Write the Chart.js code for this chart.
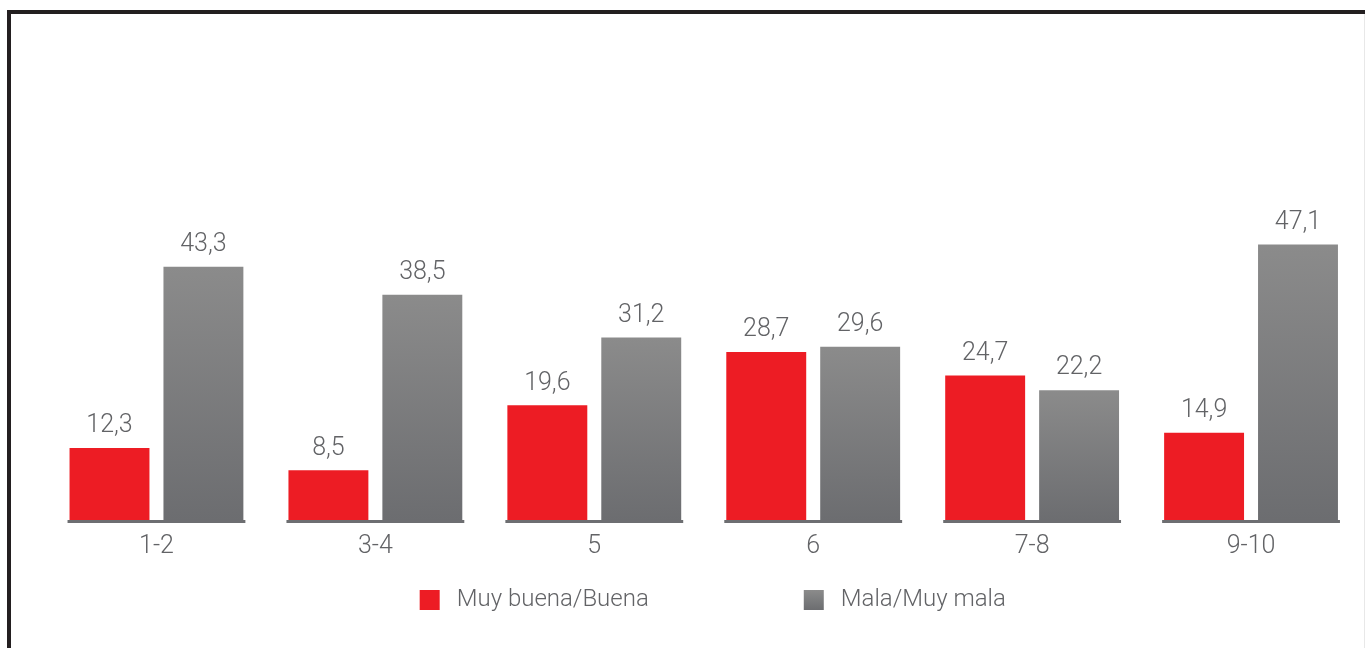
<!DOCTYPE html>
<html>
<head>
<meta charset="utf-8">
<script src="https://cdn.jsdelivr.net/npm/chart.js@4/dist/chart.umd.min.js"></script>
<style>
  html, body { margin: 0; padding: 0; background: #fff; }
  #wrap { position: relative; width: 1365px; height: 648px; overflow: hidden; }
  #myChart { position: absolute; left: 0; top: 0; }
  #frameTop { position: absolute; left: 7px; top: 10px; width: 1358px; height: 4px; background: #231f20; }
  #frameLeft { position: absolute; left: 7px; top: 10px; width: 4px; height: 638px; background: #231f20; }
  #frameRight { position: absolute; left: 1364px; top: 14px; width: 1px; height: 634px; background: #e8e8e8; }
</style>
</head>
<body>
<div id="wrap">
  <canvas id="myChart" width="1365" height="648"></canvas>
  <div id="frameTop"></div>
  <div id="frameLeft"></div>
  <div id="frameRight"></div>
</div>
<script>
// chart data
var categories = ["1-2", "3-4", "5", "6", "7-8", "9-10"];
var buena = [12.3, 8.5, 19.6, 28.7, 24.7, 14.9];
var mala = [43.3, 38.5, 31.2, 29.6, 22.2, 47.1];
var seriesNames = ["Muy buena/Buena", "Mala/Muy mala"];

var RED = "#ed1c24";
var TEXT = "#626366";
var FONT = "Roboto";

function grayGradient(context) {
  var chart = context.chart;
  var y = chart.scales.y;
  if (!chart.chartArea || !y) return "#7d7d7f";
  var top = y.getPixelForValue(context.raw);
  var bottom = y.getPixelForValue(0);
  var g = chart.ctx.createLinearGradient(0, top, 0, bottom);
  g.addColorStop(0, "#8b8b8b");
  g.addColorStop(1, "#6c6d70");
  return g;
}

function fmt(v) {
  return v.toFixed(1).replace(".", ",");
}

// grey base line under each group + value labels
var decorPlugin = {
  id: "decor",
  afterDatasetsDraw: function (chart) {
    var ctx = chart.ctx;
    var m0 = chart.getDatasetMeta(0).data;
    var m1 = chart.getDatasetMeta(1).data;
    var base = chart.scales.y.getPixelForValue(0);
    ctx.save();
    ctx.strokeStyle = "#6d6e71";
    ctx.lineWidth = 3;
    for (var i = 0; i < m0.length; i++) {
      ctx.beginPath();
      ctx.moveTo(m0[i].x - m0[i].width / 2 - 2, base + 1.5);
      ctx.lineTo(m1[i].x + m1[i].width / 2 + 2, base + 1.5);
      ctx.stroke();
    }
    ctx.fillStyle = TEXT;
    ctx.font = "300 25px " + FONT;
    ctx.textAlign = "center";
    ctx.textBaseline = "middle";
    chart.data.datasets.forEach(function (ds, d) {
      chart.getDatasetMeta(d).data.forEach(function (bar, i) {
        ctx.fillText(fmt(ds.data[i]), bar.x, bar.y - 22);
      });
    });
    ctx.restore();
  }
};

// legend drawn by hand so the spacing can be wide
var legendPlugin = {
  id: "wideLegend",
  afterDraw: function (chart) {
    var ctx = chart.ctx;
    var area = chart.chartArea;
    ctx.save();
    ctx.font = "300 24px " + FONT;
    ctx.textBaseline = "middle";
    ctx.textAlign = "left";
    var box = 20, gap = 17, spacing = 155;
    var w0 = ctx.measureText(seriesNames[0]).width;
    var w1 = ctx.measureText(seriesNames[1]).width;
    var total = box + gap + w0 + spacing + box + gap + w1;
    var x = (area.left + area.right) / 2 + 9 - total / 2;
    var y = 600;
    ctx.fillStyle = RED;
    ctx.fillRect(x, y - 10, box, box);
    ctx.fillStyle = TEXT;
    ctx.fillText(seriesNames[0], x + box + gap, y);
    x += box + gap + w0 + spacing;
    var g = ctx.createLinearGradient(0, y - 10, 0, y + 10);
    g.addColorStop(0, "#8b8b8b");
    g.addColorStop(1, "#6c6d70");
    ctx.fillStyle = g;
    ctx.fillRect(x, y - 10, box, box);
    ctx.fillStyle = TEXT;
    ctx.fillText(seriesNames[1], x + box + gap, y);
    ctx.restore();
  }
};

var canvas = document.getElementById("myChart");
var myChart = new Chart(canvas, {
  type: "bar",
  data: {
    labels: categories,
    datasets: [{
      label: seriesNames[0],
      data: buena,
      backgroundColor: RED
    }, {
      label: seriesNames[1],
      data: mala,
      backgroundColor: grayGradient
    }]
  },
  options: {
    responsive: false,
    animation: false,
    devicePixelRatio: 1,
    categoryPercentage: 0.858,
    barPercentage: 0.851,
    layout: { padding: { left: 47, right: 4.5, top: 52, bottom: 74 } },
    plugins: {
      legend: { display: false },
      tooltip: { enabled: false }
    },
    scales: {
      x: {
        grid: { display: false, drawTicks: false },
        border: { display: false },
        ticks: { color: TEXT, font: { family: FONT, size: 25, weight: 300 }, padding: 12 }
      },
      y: {
        display: false,
        min: 0,
        max: 80
      }
    }
  },
  plugins: [decorPlugin, legendPlugin]
});
</script>
</body>
</html>
